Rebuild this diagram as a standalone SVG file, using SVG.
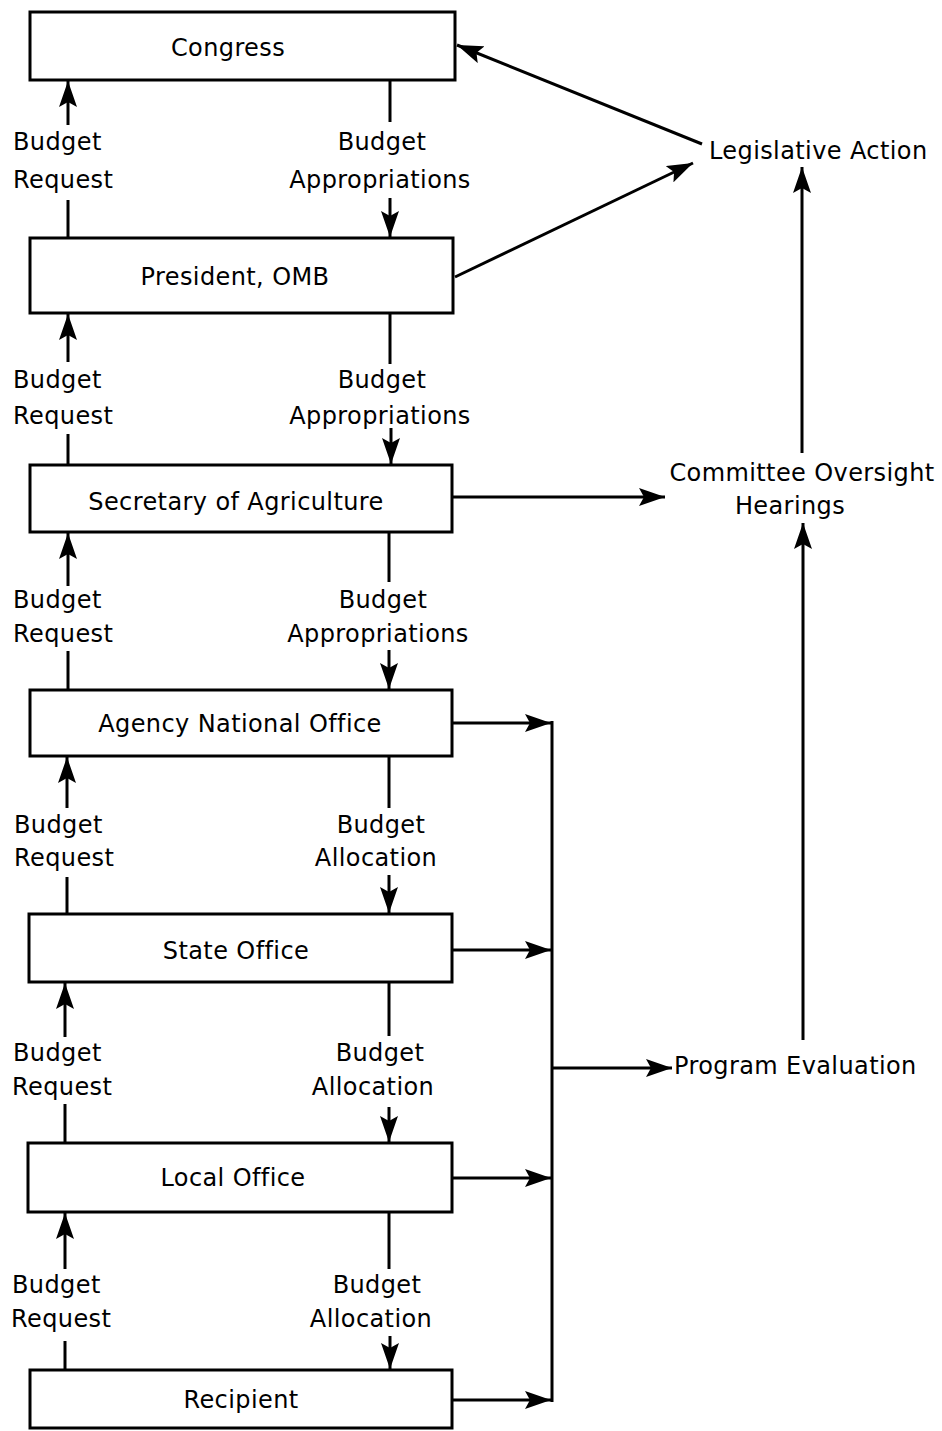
<svg xmlns="http://www.w3.org/2000/svg" width="942" height="1431" viewBox="0 0 942 1431">
<style>
.box{fill:#fff;stroke:#000;stroke-width:3}
.t{font-family:"DejaVu Sans",sans-serif;font-size:24px;letter-spacing:0.4px;fill:#000}
.c{text-anchor:middle}
.ln{stroke:#000;stroke-width:3;fill:none}
.ar{stroke:#000;stroke-width:3;fill:none;marker-end:url(#ah)}
</style>
<defs>
<marker id="ah" markerUnits="userSpaceOnUse" markerWidth="28" markerHeight="18" refX="26" refY="9" orient="auto">
<path d="M0,0 L26,9 L0,18 L5,9 z" fill="#000"/>
</marker>
</defs>
<rect width="942" height="1431" fill="#fff"/>

<g id="congress"><rect class="box" x="30" y="12" width="425" height="68"/><text class="t c" x="228" y="56">Congress</text></g>
<g id="president"><rect class="box" x="30" y="238" width="423" height="75"/><text class="t c" x="235" y="285">President, OMB</text></g>
<g id="secretary"><rect class="box" x="30" y="465" width="422" height="67"/><text class="t c" x="236" y="510">Secretary of Agriculture</text></g>
<g id="agency"><rect class="box" x="30" y="690" width="422" height="66"/><text class="t c" x="240" y="732">Agency National Office</text></g>
<g id="state"><rect class="box" x="29" y="914" width="423" height="68"/><text class="t c" x="236" y="959">State Office</text></g>
<g id="local"><rect class="box" x="28" y="1143" width="424" height="69"/><text class="t c" x="233" y="1186">Local Office</text></g>
<g id="recipient"><rect class="box" x="30" y="1370" width="422" height="58"/><text class="t c" x="241" y="1408">Recipient</text></g>

<g id="legislative"><text class="t" x="709" y="159">Legislative Action</text></g>
<g id="committee"><text class="t c" x="802" y="481">Committee Oversight</text><text class="t c" x="790" y="514">Hearings</text></g>
<g id="evaluation"><text class="t" x="674" y="1074">Program Evaluation</text></g>

<g id="labels">
<text class="t" x="13" y="150">Budget</text><text class="t" x="13" y="188">Request</text>
<text class="t c" x="382" y="150">Budget</text><text class="t c" x="380" y="188">Appropriations</text>
<text class="t" x="13" y="388">Budget</text><text class="t" x="13" y="424">Request</text>
<text class="t c" x="382" y="388">Budget</text><text class="t c" x="380" y="424">Appropriations</text>
<text class="t" x="13" y="608">Budget</text><text class="t" x="13" y="642">Request</text>
<text class="t c" x="383" y="608">Budget</text><text class="t c" x="378" y="642">Appropriations</text>
<text class="t" x="14" y="833">Budget</text><text class="t" x="14" y="866">Request</text>
<text class="t c" x="381" y="833">Budget</text><text class="t c" x="376" y="866">Allocation</text>
<text class="t" x="13" y="1061">Budget</text><text class="t" x="12" y="1095">Request</text>
<text class="t c" x="380" y="1061">Budget</text><text class="t c" x="373" y="1095">Allocation</text>
<text class="t" x="12" y="1293">Budget</text><text class="t" x="11" y="1327">Request</text>
<text class="t c" x="377" y="1293">Budget</text><text class="t c" x="371" y="1327">Allocation</text>
</g>

<g id="connectors">
<!-- Budget request arrows (up) -->
<line class="ar" x1="68" y1="125" x2="68" y2="81"/><line class="ln" x1="68" y1="200" x2="68" y2="238"/>
<line class="ar" x1="68" y1="362" x2="68" y2="314"/><line class="ln" x1="68" y1="434" x2="68" y2="465"/>
<line class="ar" x1="68" y1="586" x2="68" y2="533"/><line class="ln" x1="68" y1="651" x2="68" y2="690"/>
<line class="ar" x1="67" y1="808" x2="67" y2="757"/><line class="ln" x1="67" y1="877" x2="67" y2="914"/>
<line class="ar" x1="65" y1="1037" x2="65" y2="983"/><line class="ln" x1="65" y1="1104" x2="65" y2="1143"/>
<line class="ar" x1="65" y1="1269" x2="65" y2="1213"/><line class="ln" x1="65" y1="1341" x2="65" y2="1370"/>
<!-- Budget appropriation/allocation arrows (down) -->
<line class="ln" x1="390" y1="80" x2="390" y2="122"/><line class="ar" x1="390" y1="198" x2="390" y2="237"/>
<line class="ln" x1="390" y1="313" x2="390" y2="364"/><line class="ar" x1="391" y1="428" x2="391" y2="464"/>
<line class="ln" x1="389" y1="532" x2="389" y2="582"/><line class="ar" x1="389" y1="650" x2="389" y2="689"/>
<line class="ln" x1="389" y1="756" x2="389" y2="808"/><line class="ar" x1="389" y1="875" x2="389" y2="913"/>
<line class="ln" x1="389" y1="982" x2="389" y2="1036"/><line class="ar" x1="389" y1="1107" x2="389" y2="1142"/>
<line class="ln" x1="389" y1="1212" x2="389" y2="1269"/><line class="ar" x1="390" y1="1336" x2="390" y2="1369"/>
<!-- Legislative action -->
<line class="ar" x1="702" y1="144" x2="457" y2="45"/>
<line class="ar" x1="455" y1="277" x2="693" y2="163"/>
<line class="ar" x1="802" y1="453" x2="802" y2="167"/>
<!-- Committee oversight -->
<line class="ar" x1="452" y1="497" x2="665" y2="497"/>
<line class="ar" x1="803" y1="1040" x2="803" y2="523"/>
<!-- Program evaluation bracket -->
<line class="ar" x1="452" y1="723" x2="551" y2="723"/>
<line class="ar" x1="452" y1="950" x2="551" y2="950"/>
<line class="ar" x1="452" y1="1178" x2="551" y2="1178"/>
<line class="ar" x1="452" y1="1400" x2="551" y2="1400"/>
<line class="ln" x1="552" y1="721" x2="552" y2="1402"/>
<line class="ar" x1="552" y1="1068" x2="672" y2="1068"/>
</g>
</svg>
